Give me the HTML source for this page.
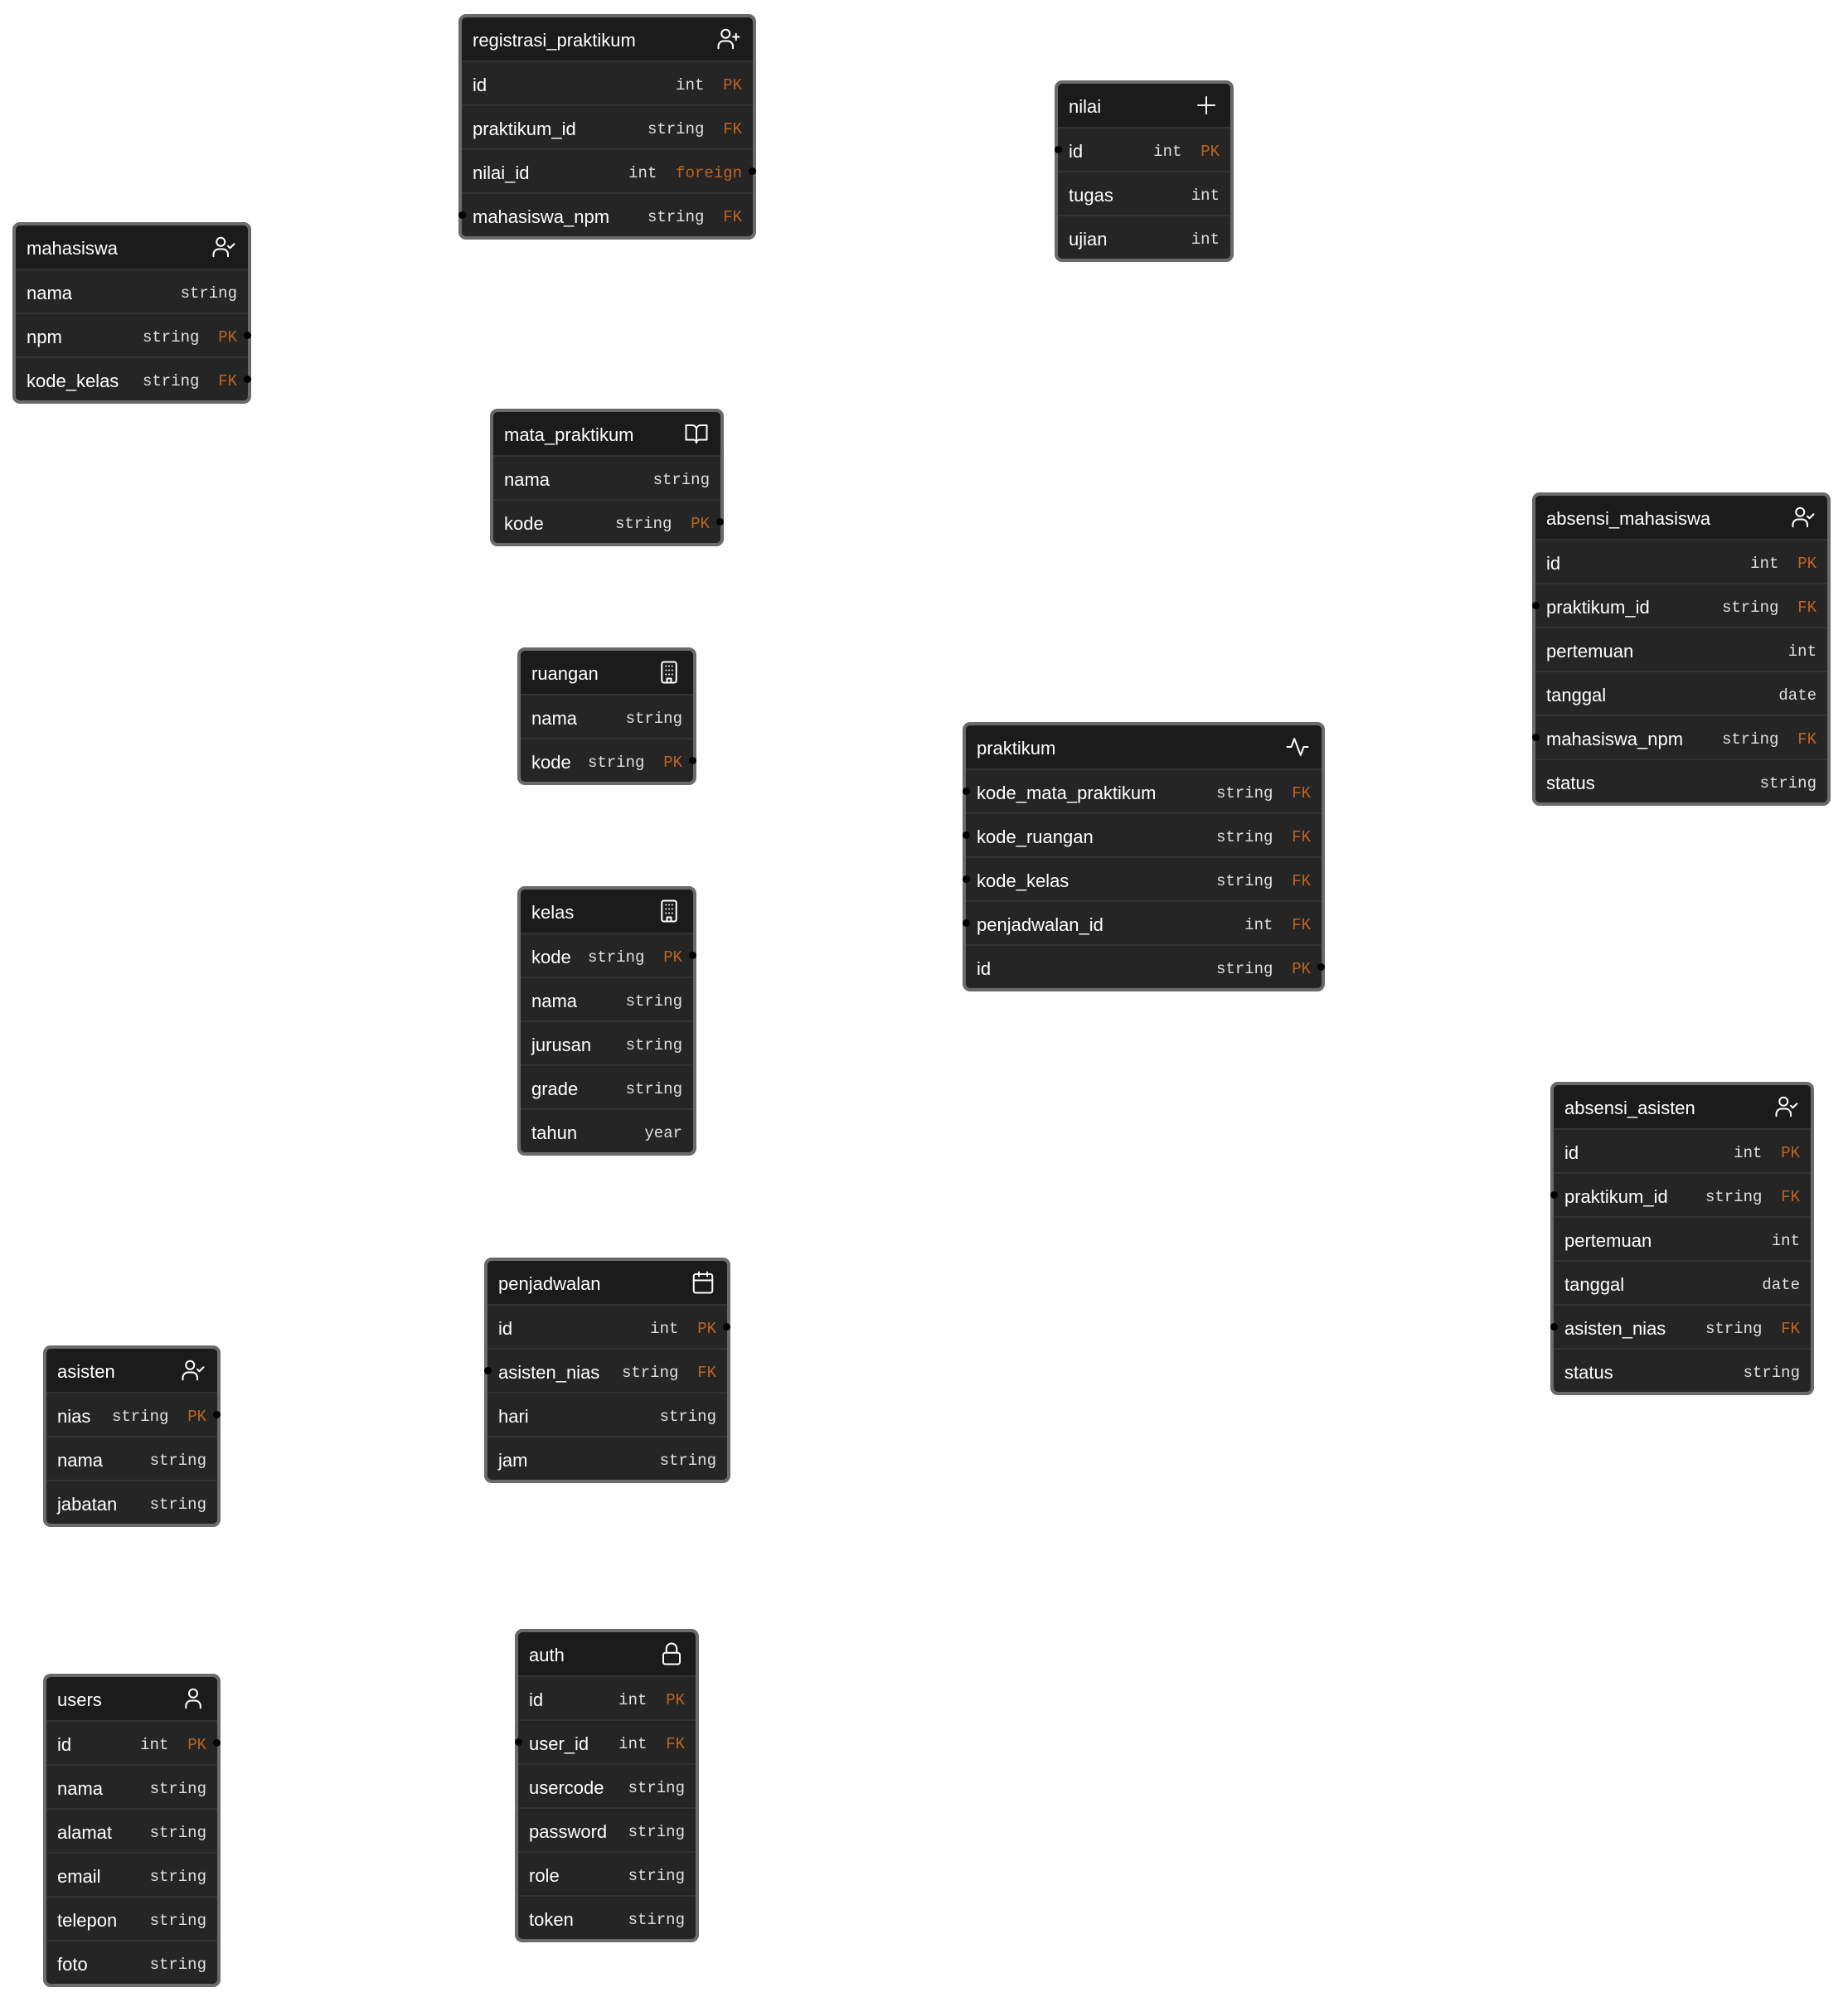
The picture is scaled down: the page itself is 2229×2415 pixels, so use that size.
<!DOCTYPE html>
<html><head><meta charset="utf-8"><style>
body{margin:0;width:2229px;height:2415px;background:#fff;position:relative;overflow:hidden;font-family:"Liberation Sans",sans-serif}
.t{position:absolute;border:4px solid #6a6a6a;border-radius:9px;background:#252525;overflow:visible}
.h{height:52px;box-sizing:border-box;padding:4px 14px 0 13px;background:#1b1b1b;color:#fff;font-size:22px;display:flex;align-items:center;justify-content:space-between;border-radius:6px 6px 0 0}
.h svg{width:30px;height:30px;fill:none;stroke:#fff;stroke-width:1.6;stroke-linecap:round;stroke-linejoin:round;margin-top:-4px}
.r{position:relative;height:51px;box-sizing:border-box;border-top:2px solid #333;display:flex;align-items:center;justify-content:space-between;padding:4px 13px 0 13px;color:#fff;font-size:22px}
.r{height:53px}
.ty{font-family:"Liberation Mono",monospace;font-size:19px;color:#e0e0e0;white-space:pre}
.k{color:#c0641e}
.dl,.dr{position:absolute;top:21px;width:9px;height:9px;border-radius:50%;background:#000}
.dl{left:-4px}.dr{right:-4px}
</style></head><body>

<div class="t" style="left:553px;top:17px;width:351px">
<div class="h">registrasi_praktikum<svg viewBox="0 0 24 24"><circle cx="9" cy="7" r="4"/><path d="M2 21v-2a5 5 0 0 1 5-5h4a5 5 0 0 1 5 5v2M19 7v6M16 10h6"/></svg></div>
<div class="r"><span>id</span><span class="ty">int  <span class="k">PK</span></span></div>
<div class="r"><span>praktikum_id</span><span class="ty">string  <span class="k">FK</span></span></div>
<div class="r"><span>nilai_id</span><span class="ty">int  <span class="k">foreign</span></span><i class="dr"></i></div>
<div class="r"><i class="dl"></i><span>mahasiswa_npm</span><span class="ty">string  <span class="k">FK</span></span></div>
</div>

<div class="t" style="left:15px;top:268px;width:280px">
<div class="h">mahasiswa<svg viewBox="0 0 24 24"><circle cx="9" cy="7" r="4"/><path d="M2 21v-2a5 5 0 0 1 5-5h4a5 5 0 0 1 5 5v2M16 11l2 2 4-4"/></svg></div>
<div class="r"><span>nama</span><span class="ty">string</span></div>
<div class="r"><span>npm</span><span class="ty">string  <span class="k">PK</span></span><i class="dr"></i></div>
<div class="r"><span>kode_kelas</span><span class="ty">string  <span class="k">FK</span></span><i class="dr"></i></div>
</div>

<div class="t" style="left:1272px;top:97px;width:208px">
<div class="h">nilai<svg viewBox="0 0 24 24"><path d="M12 4v16M4 12h16"/></svg></div>
<div class="r"><i class="dl"></i><span>id</span><span class="ty">int  <span class="k">PK</span></span></div>
<div class="r"><span>tugas</span><span class="ty">int</span></div>
<div class="r"><span>ujian</span><span class="ty">int</span></div>
</div>

<div class="t" style="left:591px;top:493px;width:274px">
<div class="h">mata_praktikum<svg viewBox="0 0 24 24"><path d="M2 4h6a4 4 0 0 1 4 4v13a3 3 0 0 0-3-3H2zM22 4h-6a4 4 0 0 0-4 4v13a3 3 0 0 1 3-3h7z"/></svg></div>
<div class="r"><span>nama</span><span class="ty">string</span></div>
<div class="r"><span>kode</span><span class="ty">string  <span class="k">PK</span></span><i class="dr"></i></div>
</div>

<div class="t" style="left:624px;top:781px;width:208px">
<div class="h">ruangan<svg viewBox="0 0 24 24"><rect x="5" y="2" width="14" height="20" rx="2"/><path d="M10 22v-4h4v4M9 6h.01M12 6h.01M15 6h.01M9 10h.01M12 10h.01M15 10h.01M9 14h.01M12 14h.01M15 14h.01"/></svg></div>
<div class="r"><span>nama</span><span class="ty">string</span></div>
<div class="r"><span>kode</span><span class="ty">string  <span class="k">PK</span></span><i class="dr"></i></div>
</div>

<div class="t" style="left:1848px;top:594px;width:352px">
<div class="h">absensi_mahasiswa<svg viewBox="0 0 24 24"><circle cx="9" cy="7" r="4"/><path d="M2 21v-2a5 5 0 0 1 5-5h4a5 5 0 0 1 5 5v2M16 11l2 2 4-4"/></svg></div>
<div class="r"><span>id</span><span class="ty">int  <span class="k">PK</span></span></div>
<div class="r"><i class="dl"></i><span>praktikum_id</span><span class="ty">string  <span class="k">FK</span></span></div>
<div class="r"><span>pertemuan</span><span class="ty">int</span></div>
<div class="r"><span>tanggal</span><span class="ty">date</span></div>
<div class="r"><i class="dl"></i><span>mahasiswa_npm</span><span class="ty">string  <span class="k">FK</span></span></div>
<div class="r"><span>status</span><span class="ty">string</span></div>
</div>

<div class="t" style="left:1161px;top:871px;width:429px">
<div class="h">praktikum<svg viewBox="0 0 24 24"><path d="M2 12h4l3-8 6 16 3-8h4"/></svg></div>
<div class="r"><i class="dl"></i><span>kode_mata_praktikum</span><span class="ty">string  <span class="k">FK</span></span></div>
<div class="r"><i class="dl"></i><span>kode_ruangan</span><span class="ty">string  <span class="k">FK</span></span></div>
<div class="r"><i class="dl"></i><span>kode_kelas</span><span class="ty">string  <span class="k">FK</span></span></div>
<div class="r"><i class="dl"></i><span>penjadwalan_id</span><span class="ty">int  <span class="k">FK</span></span></div>
<div class="r"><span>id</span><span class="ty">string  <span class="k">PK</span></span><i class="dr"></i></div>
</div>

<div class="t" style="left:624px;top:1069px;width:208px">
<div class="h">kelas<svg viewBox="0 0 24 24"><rect x="5" y="2" width="14" height="20" rx="2"/><path d="M10 22v-4h4v4M9 6h.01M12 6h.01M15 6h.01M9 10h.01M12 10h.01M15 10h.01M9 14h.01M12 14h.01M15 14h.01"/></svg></div>
<div class="r"><span>kode</span><span class="ty">string  <span class="k">PK</span></span><i class="dr"></i></div>
<div class="r"><span>nama</span><span class="ty">string</span></div>
<div class="r"><span>jurusan</span><span class="ty">string</span></div>
<div class="r"><span>grade</span><span class="ty">string</span></div>
<div class="r"><span>tahun</span><span class="ty">year</span></div>
</div>

<div class="t" style="left:1870px;top:1305px;width:310px">
<div class="h">absensi_asisten<svg viewBox="0 0 24 24"><circle cx="9" cy="7" r="4"/><path d="M2 21v-2a5 5 0 0 1 5-5h4a5 5 0 0 1 5 5v2M16 11l2 2 4-4"/></svg></div>
<div class="r"><span>id</span><span class="ty">int  <span class="k">PK</span></span></div>
<div class="r"><i class="dl"></i><span>praktikum_id</span><span class="ty">string  <span class="k">FK</span></span></div>
<div class="r"><span>pertemuan</span><span class="ty">int</span></div>
<div class="r"><span>tanggal</span><span class="ty">date</span></div>
<div class="r"><i class="dl"></i><span>asisten_nias</span><span class="ty">string  <span class="k">FK</span></span></div>
<div class="r"><span>status</span><span class="ty">string</span></div>
</div>

<div class="t" style="left:584px;top:1517px;width:289px">
<div class="h">penjadwalan<svg viewBox="0 0 24 24"><rect x="3" y="4" width="18" height="18" rx="2"/><path d="M16 2v4M8 2v4M3 10h18"/></svg></div>
<div class="r"><span>id</span><span class="ty">int  <span class="k">PK</span></span><i class="dr"></i></div>
<div class="r"><i class="dl"></i><span>asisten_nias</span><span class="ty">string  <span class="k">FK</span></span></div>
<div class="r"><span>hari</span><span class="ty">string</span></div>
<div class="r"><span>jam</span><span class="ty">string</span></div>
</div>

<div class="t" style="left:52px;top:1623px;width:206px">
<div class="h">asisten<svg viewBox="0 0 24 24"><circle cx="9" cy="7" r="4"/><path d="M2 21v-2a5 5 0 0 1 5-5h4a5 5 0 0 1 5 5v2M16 11l2 2 4-4"/></svg></div>
<div class="r"><span>nias</span><span class="ty">string  <span class="k">PK</span></span><i class="dr"></i></div>
<div class="r"><span>nama</span><span class="ty">string</span></div>
<div class="r"><span>jabatan</span><span class="ty">string</span></div>
</div>

<div class="t" style="left:52px;top:2019px;width:206px">
<div class="h">users<svg viewBox="0 0 24 24"><circle cx="12" cy="7" r="4"/><path d="M5 21v-2a5 5 0 0 1 5-5h4a5 5 0 0 1 5 5v2"/></svg></div>
<div class="r"><span>id</span><span class="ty">int  <span class="k">PK</span></span><i class="dr"></i></div>
<div class="r"><span>nama</span><span class="ty">string</span></div>
<div class="r"><span>alamat</span><span class="ty">string</span></div>
<div class="r"><span>email</span><span class="ty">string</span></div>
<div class="r"><span>telepon</span><span class="ty">string</span></div>
<div class="r"><span>foto</span><span class="ty">string</span></div>
</div>

<div class="t" style="left:621px;top:1965px;width:214px">
<div class="h">auth<svg viewBox="0 0 24 24"><rect x="4" y="11" width="16" height="11" rx="2"/><path d="M7 11V7a5 5 0 0 1 10 0v4"/></svg></div>
<div class="r"><span>id</span><span class="ty">int  <span class="k">PK</span></span></div>
<div class="r"><i class="dl"></i><span>user_id</span><span class="ty">int  <span class="k">FK</span></span></div>
<div class="r"><span>usercode</span><span class="ty">string</span></div>
<div class="r"><span>password</span><span class="ty">string</span></div>
<div class="r"><span>role</span><span class="ty">string</span></div>
<div class="r"><span>token</span><span class="ty">stirng</span></div>
</div>

</body></html>
